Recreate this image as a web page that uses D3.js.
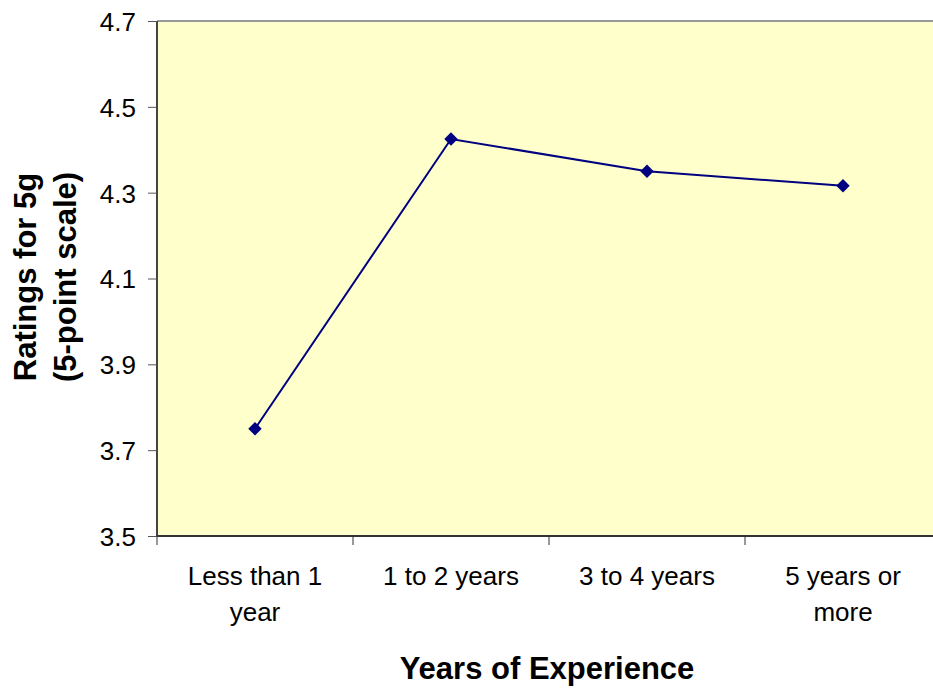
<!DOCTYPE html>
<html>
<head>
<meta charset="utf-8">
<script src="https://cdn.jsdelivr.net/npm/d3@7"></script>
<style>
  body { margin: 0; background: #fff; }
  svg { display: block; }
  svg text { font-family: "Liberation Sans", Arial, sans-serif; }
</style>
</head>
<body>
<div class="chart-container"></div>
<script>
var categories = [["Less than 1", "year"], ["1 to 2 years"], ["3 to 4 years"], ["5 years or", "more"]];
var ratings = [3.75, 4.425, 4.35, 4.316];
var yTicks = [3.5, 3.7, 3.9, 4.1, 4.3, 4.5, 4.7];

var W = 933, H = 688;
var margin = {top: 21, right: -8, bottom: 152, left: 157},
    width = W - margin.left - margin.right,
    height = H - margin.top - margin.bottom;

var svg = d3.select(".chart-container").append("svg")
    .attr("width", W)
    .attr("height", H);

var x = d3.scaleBand().domain(d3.range(categories.length)).range([0, width]);
var y = d3.scaleLinear().domain([3.5, 4.7]).range([height, 0]);

var g = svg.append("g")
    .attr("transform", "translate(" + margin.left + "," + margin.top + ")");

// plot background
g.append("rect")
    .attr("width", width)
    .attr("height", height)
    .attr("fill", "#ffffcc");

// top border
g.append("line")
    .attr("x1", 0).attr("x2", width)
    .attr("y1", 0).attr("y2", 0)
    .attr("stroke", "#999").attr("stroke-width", 2);

// y axis
var yAxis = d3.axisLeft(y).tickValues(yTicks).tickFormat(d3.format(".1f")).tickSize(9).tickPadding(12);
var ya = g.append("g").call(yAxis).attr("font-family", null);
ya.select(".domain").attr("stroke", "#444").attr("stroke-width", 2).attr("d", "M0," + height + "V0");
ya.selectAll(".tick line").attr("stroke", "#555");
ya.selectAll(".tick text").attr("font-size", 26).attr("fill", "#000").attr("dy", "0.36em");

// x axis
var xa = g.append("g").attr("transform", "translate(0," + height + ")");
xa.append("line").attr("x1", 0).attr("x2", width).attr("stroke", "#333").attr("stroke-width", 2);
xa.selectAll("line.tick")
    .data(d3.range(categories.length + 1))
    .enter().append("line")
    .attr("class", "tick")
    .attr("x1", function(d) { return d * x.bandwidth(); })
    .attr("x2", function(d) { return d * x.bandwidth(); })
    .attr("y1", 0).attr("y2", 9)
    .attr("stroke", "#333");
xa.selectAll("text.cat")
    .data(categories)
    .enter().append("text")
    .attr("class", "cat")
    .attr("text-anchor", "middle")
    .attr("font-size", 26)
    .attr("x", function(d, i) { return x(i) + x.bandwidth() / 2; })
    .attr("y", 49)
    .each(function(d) {
        var t = d3.select(this);
        d.forEach(function(s, j) {
            t.append("tspan")
                .attr("x", t.attr("x"))
                .attr("dy", j === 0 ? 0 : 36)
                .text(s);
        });
    });

// line + markers
var line = d3.line()
    .x(function(d, i) { return x(i) + x.bandwidth() / 2; })
    .y(function(d) { return y(d); });

g.append("path")
    .datum(ratings)
    .attr("d", line)
    .attr("fill", "none")
    .attr("stroke", "#000080")
    .attr("stroke-width", 2);

g.selectAll("path.marker")
    .data(ratings)
    .enter().append("path")
    .attr("class", "marker")
    .attr("d", d3.symbol().type(d3.symbolDiamond2).size(115))
    .attr("transform", function(d, i) {
        return "translate(" + (x(i) + x.bandwidth() / 2) + "," + y(d) + ")";
    })
    .attr("fill", "#000080");

// axis titles
svg.append("text")
    .attr("text-anchor", "middle")
    .attr("font-size", 31)
    .attr("font-weight", "bold")
    .attr("x", 547)
    .attr("y", 679)
    .text("Years of Experience");

var yt = svg.append("text")
    .attr("text-anchor", "middle")
    .attr("font-size", 31)
    .attr("font-weight", "bold")
    .attr("transform", "translate(36,277) rotate(-90)");
yt.append("tspan").attr("x", 0).attr("dy", 0).text("Ratings for 5g");
yt.append("tspan").attr("x", 0).attr("dy", 40).text("(5-point scale)");
</script>
</body>
</html>
